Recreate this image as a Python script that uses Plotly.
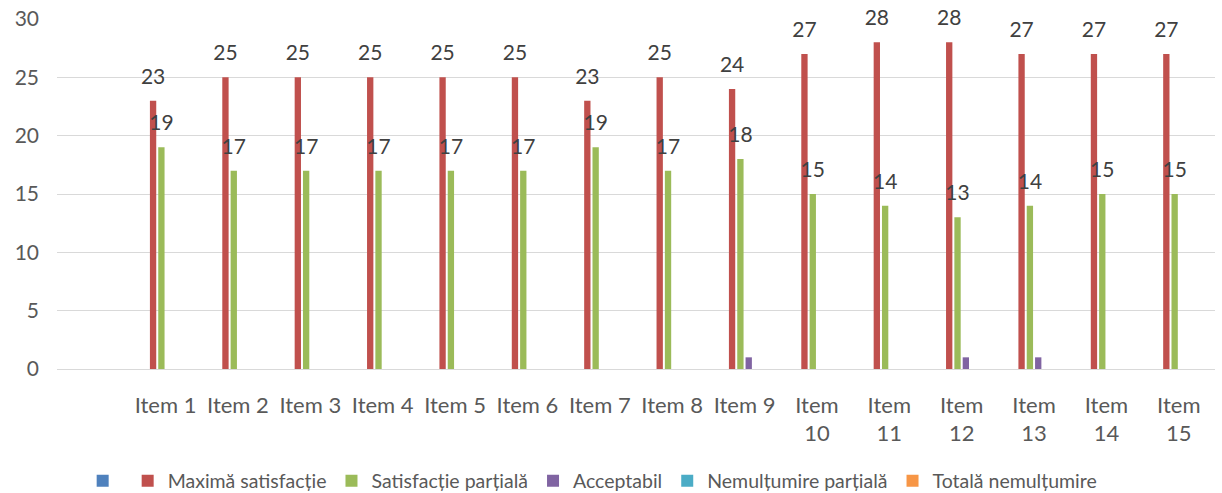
import plotly.graph_objects as go

# categories (first one is blank in the source sheet)
categories = [" "] + [f"Item {i}" for i in range(1, 16)]
tick_labels = [" "] + [f"Item {i}" for i in range(1, 10)] + [f"Item<br>{i}" for i in range(10, 16)]

blank_series = [0] * 16
maxima = [None, 23, 25, 25, 25, 25, 25, 23, 25, 24, 27, 28, 28, 27, 27, 27]
partiala = [None, 19, 17, 17, 17, 17, 17, 19, 17, 18, 15, 14, 13, 14, 15, 15]
acceptabil = [None, 0, 0, 0, 0, 0, 0, 0, 0, 1, 0, 0, 1, 1, 0, 0]
nemultumire_partiala = [None] + [0] * 15
totala_nemultumire = [None] + [0] * 15

FONT = "Lato"
TEXT = "#595959"
LABEL_LIFT = 0.85  # Excel leaves a bit more room between bar and its label

series = [
    ("", blank_series, "#4F81BD", False),
    ("Maximă satisfacție", maxima, "#C0504D", True),
    ("Satisfacție parțială", partiala, "#9BBB59", True),
    ("Acceptabil", acceptabil, "#8064A2", False),
    ("Nemulțumire parțială", nemultumire_partiala, "#4BACC6", False),
    ("Totală nemulțumire", totala_nemultumire, "#F79646", False),
]

fig = go.Figure()
for i, (name, vals, color, labels) in enumerate(series):
    fig.add_trace(go.Bar(
        x=categories,
        y=vals,
        name=name,
        offsetgroup=str(i),
        marker=dict(color=color, line=dict(width=0)),
    ))
    if labels:
        # invisible twin bar, lifted slightly, that carries the data labels
        fig.add_trace(go.Bar(
            x=categories,
            y=vals,
            base=LABEL_LIFT,
            offsetgroup=str(i),
            marker=dict(color="rgba(0,0,0,0)", line=dict(width=0)),
            text=[str(v) if v else "" for v in vals],
            textposition="outside",
            constraintext="none",
            textfont=dict(family=FONT, size=21, color="#404040"),
            cliponaxis=False,
            showlegend=False,
            hoverinfo="skip",
        ))

fig.update_layout(
    barmode="group",
    bargap=0.31,
    bargroupgap=0.24,
    width=1222,
    height=493,
    margin=dict(l=57, r=7, t=19, b=124),
    plot_bgcolor="white",
    paper_bgcolor="white",
    font=dict(family=FONT, size=21, color=TEXT),
    legend=dict(
        orientation="h",
        xref="container", yref="container",
        x=0.485, xanchor="center",
        y=0.024, yanchor="middle",
        font=dict(size=19.5, color=TEXT),
        itemwidth=30,
        traceorder="normal",
    ),
    showlegend=True,
)

fig.update_yaxes(
    range=[0, 30],
    dtick=5,
    showgrid=True,
    gridcolor="#D9D9D9",
    gridwidth=1.3,
    zeroline=False,
    automargin=False,
    tickfont=dict(family=FONT, size=21, color=TEXT),
    ticklabelstandoff=17,
)
fig.update_xaxes(
    type="category",
    tickvals=categories,
    ticktext=tick_labels,
    showline=True,
    linecolor="#D9D9D9",
    linewidth=1.3,
    automargin=False,
    tickfont=dict(family=FONT, size=22, color=TEXT),
    ticklabelstandoff=16,
)

fig.write_html(
    "out.html",
    config={"displayModeBar": False},
    post_script="document.body.style.margin = '0';",
)
